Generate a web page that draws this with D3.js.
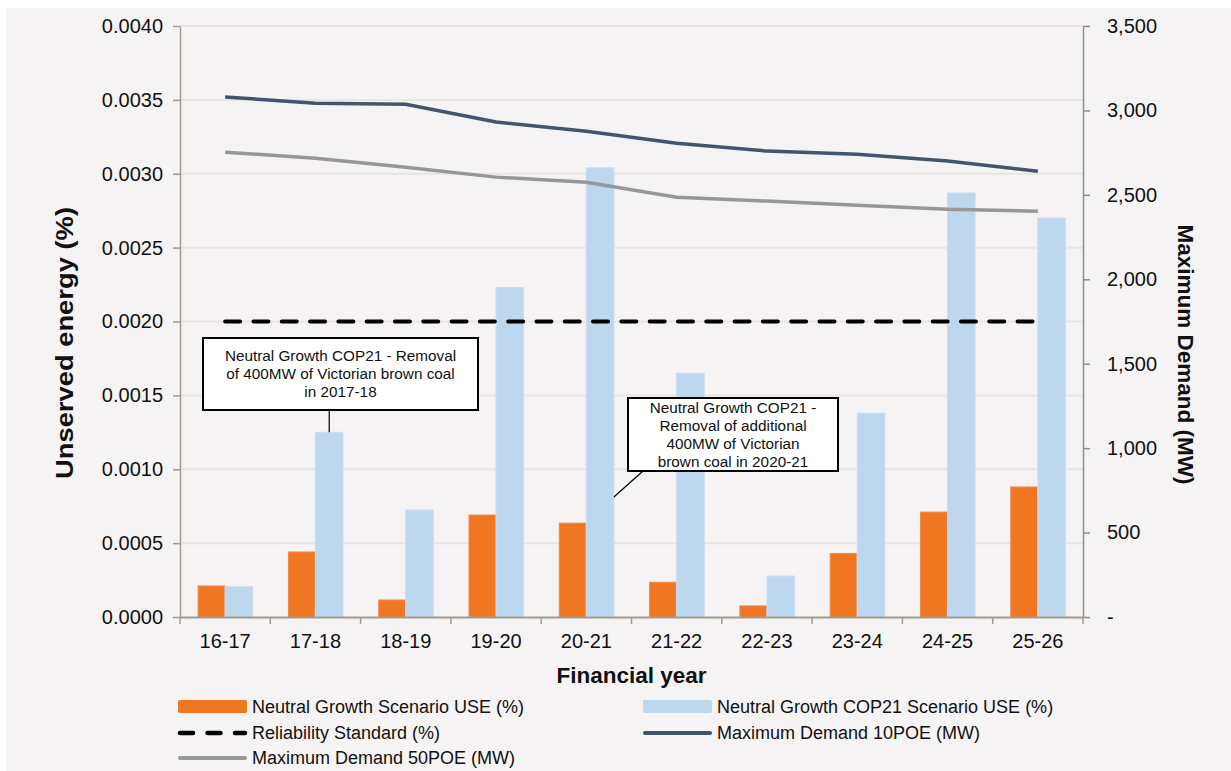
<!DOCTYPE html>
<html><head><meta charset="utf-8">
<script src="https://cdn.jsdelivr.net/npm/d3@7"></script>
<style>
html,body{margin:0;padding:0;background:#fff;}
svg text{font-family:Arial,"Liberation Sans",Helvetica,sans-serif;}
</style></head>
<body>
<svg id="chart" width="1231" height="771"></svg>
<script>
const categories = ["16-17","17-18","18-19","19-20","20-21","21-22","22-23","23-24","24-25","25-26"];
const useNeutral = [0.00021,0.00044,0.000115,0.00069,0.000635,0.000235,0.000075,0.00043,0.00071,0.00088];
const useCOP21   = [0.000205,0.00125,0.000724,0.00223,0.00304,0.00165,0.000277,0.00138,0.00287,0.0027];
const reliability = [0.002,0.002,0.002,0.002,0.002,0.002,0.002,0.002,0.002,0.002];
const demand10POE = [3080,3043,3037,2931,2877,2806,2759,2741,2700,2640];
const demand50POE = [2753,2717,2664,2605,2575,2486,2463,2439,2415,2403];
const leftTicks = [0,0.0005,0.001,0.0015,0.002,0.0025,0.003,0.0035,0.004];
const rightTicks = [0,500,1000,1500,2000,2500,3000,3500];
const seriesNames = ["Neutral Growth Scenario USE (%)","Neutral Growth COP21 Scenario USE (%)","Reliability Standard (%)","Maximum Demand 10POE (MW)","Maximum Demand 50POE (MW)"];

const C = {orange:"#f07622", orangeStroke:"#f0894a", blue:"#bdd7ee", blueStroke:"#c8def1", dark:"#44546a", grey:"#979797", text:"#111"};

const svg = d3.select("#chart");
svg.append("rect").attr("x",6).attr("y",8).attr("width",1225).attr("height",763).attr("fill","#f5f3f3");

const L=180, R=1083, T=26, B=617;
const x0 = d3.scaleBand().domain(categories).range([L,R]).paddingInner(0.39).paddingOuter(0.195);
const x1 = d3.scaleBand().domain(["n","c"]).range([0,x0.bandwidth()]);
const yL = d3.scaleLinear().domain([0,0.004]).range([B,T]);
const yR = d3.scaleLinear().domain([0,3500]).range([B,T]);
const cx = c => x0(c)+x0.bandwidth()/2;

// gridlines
svg.append("g").selectAll("line").data(leftTicks.slice(1)).join("line")
  .attr("x1",L).attr("x2",R).attr("y1",d=>yL(d)).attr("y2",d=>yL(d))
  .attr("stroke","#e9e5df").attr("stroke-width",2);

// bars
const g = svg.append("g");
categories.forEach((c,i)=>{
  g.append("rect").attr("x",x0(c)+x1("n")+0.5).attr("y",yL(useNeutral[i])).attr("width",x1.bandwidth()-1)
    .attr("height",B-yL(useNeutral[i])).attr("fill",C.orange).attr("stroke",C.orangeStroke).attr("stroke-width",1);
  g.append("rect").attr("x",x0(c)+x1("c")).attr("y",yL(useCOP21[i])).attr("width",x1.bandwidth())
    .attr("height",B-yL(useCOP21[i])).attr("fill",C.blue).attr("stroke",C.blueStroke).attr("stroke-width",1);
});

// axes
const axL = d3.axisLeft(yL).tickValues(leftTicks).tickFormat(d3.format(".4f")).tickSize(7).tickSizeOuter(0);
const gL = svg.append("g").attr("transform",`translate(${L},0)`).call(axL);
gL.select(".domain").attr("stroke","#a39c8e").attr("stroke-width",1.5);
gL.selectAll(".tick line").attr("stroke","#a39c8e").attr("stroke-width",1.5);
gL.selectAll(".tick text").attr("font-size",20).attr("fill",C.text).attr("x",-17).attr("font-family","Arial, Liberation Sans, sans-serif");

const axR = d3.axisRight(yR).tickValues(rightTicks).tickFormat(d=>d===0?"-":d3.format(",")(d)).tickSize(7).tickSizeOuter(0);
const gR = svg.append("g").attr("transform",`translate(${R},0)`).call(axR);
gR.select(".domain").attr("stroke","#8e8e8e").attr("stroke-width",1.5);
gR.selectAll(".tick line").attr("stroke","#8e8e8e").attr("stroke-width",1.5);
gR.selectAll(".tick text").attr("font-size",20).attr("fill",C.text).attr("x",24).attr("font-family","Arial, Liberation Sans, sans-serif");

const axB = d3.axisBottom(x0).tickSize(0).tickSizeOuter(0);
const gB = svg.append("g").attr("transform",`translate(0,${B})`).call(axB);
gB.select(".domain").attr("stroke","#a39c8e").attr("stroke-width",2);
gB.selectAll(".tick text").attr("font-size",20).attr("fill",C.text).attr("y",17).attr("font-family","Arial, Liberation Sans, sans-serif");
// boundary ticks
const step = x0.step();
svg.append("g").selectAll("line").data(d3.range(categories.length+1)).join("line")
  .attr("x1",i=>L+i*step).attr("x2",i=>L+i*step).attr("y1",B).attr("y2",B+7)
  .attr("stroke","#a39c8e").attr("stroke-width",1.5);

// lines
const lineR = d3.line().x((d,i)=>cx(categories[i])).y(d=>yR(d));
const lineL = d3.line().x((d,i)=>cx(categories[i])).y(d=>yL(d));
svg.append("path").datum(reliability).attr("d",lineL).attr("fill","none").attr("stroke","#000")
  .attr("stroke-width",4).attr("stroke-dasharray","15,13.3").attr("stroke-linecap","round");
svg.append("path").datum(demand50POE).attr("d",lineR).attr("fill","none").attr("stroke",C.grey).attr("stroke-width",3.5);
svg.append("path").datum(demand10POE).attr("d",lineR).attr("fill","none").attr("stroke",C.dark).attr("stroke-width",3.5);

// axis titles
svg.append("text").attr("transform",`translate(73,479) rotate(-90)`).attr("text-anchor","start")
  .attr("font-size",24.5).attr("font-weight","bold").attr("fill",C.text)
  .attr("textLength",272).attr("lengthAdjust","spacingAndGlyphs").text("Unserved energy (%)");
svg.append("text").attr("transform",`translate(1178,${(T+B)/2+33}) rotate(90)`).attr("text-anchor","middle")
  .attr("font-size",22.5).attr("font-weight","bold").attr("fill",C.text).text("Maximum Demand (MW)");
svg.append("text").attr("x",(L+R)/2).attr("y",683).attr("text-anchor","middle")
  .attr("font-size",22.5).attr("font-weight","bold").attr("fill",C.text).text("Financial year");

// annotations
function annotate(box, lines, anchor, from){
  const a = svg.append("g");
  a.append("line").attr("x1",from[0]).attr("y1",from[1]).attr("x2",anchor[0]).attr("y2",anchor[1]).attr("stroke","#000").attr("stroke-width",1.2);
  a.append("rect").attr("x",box.x).attr("y",box.y).attr("width",box.w).attr("height",box.h)
    .attr("fill","#fff").attr("stroke","#000").attr("stroke-width",2);
  const lh = 18, start = box.y + box.h/2 - (lines.length-1)*lh/2 + 5;
  lines.forEach((t,i)=>a.append("text").attr("x",box.x+box.w/2).attr("y",start+i*lh).attr("text-anchor","middle")
    .attr("font-size",15.3).attr("fill",C.text).text(t));
}
const b1x = x0("17-18")+x1("c")+x1.bandwidth()/2;
annotate({x:203,y:338,w:275,h:72},["Neutral Growth COP21 - Removal","of 400MW of Victorian brown coal","in 2017-18"],
  [b1x, yL(useCOP21[1])], [b1x, 410]);
const b2x = x0("20-21")+x1("c")+x1.bandwidth();
annotate({x:628,y:398,w:210,h:73},["Neutral Growth COP21 -","Removal of additional","400MW of Victorian","brown coal in 2020-21"],
  [b2x, 497], [643, 471]);

// legend
const lg = svg.append("g");
const items = [
  {name:seriesNames[0], type:"rect", color:C.orange, x:178, y:707},
  {name:seriesNames[1], type:"rect", color:C.blue, x:643, y:707},
  {name:seriesNames[2], type:"dash", color:"#000", x:178, y:733},
  {name:seriesNames[3], type:"line", color:C.dark, x:643, y:733},
  {name:seriesNames[4], type:"line", color:C.grey, x:178, y:758}
];
items.forEach(it=>{
  if(it.type==="rect") lg.append("rect").attr("x",it.x).attr("y",it.y-7).attr("width",69).attr("height",13).attr("rx",2).attr("fill",it.color);
  else lg.append("line").attr("x1",it.x+2).attr("x2",it.x+67).attr("y1",it.y).attr("y2",it.y).attr("stroke",it.color)
    .attr("stroke-width",it.type==="dash"?4.5:4).attr("stroke-linecap","round").attr("stroke-dasharray",it.type==="dash"?"13,14.5":null);
  lg.append("text").attr("x",it.x+74).attr("y",it.y+6).attr("font-size",18).attr("fill",C.text).text(it.name);
});
</script>
</body></html>
